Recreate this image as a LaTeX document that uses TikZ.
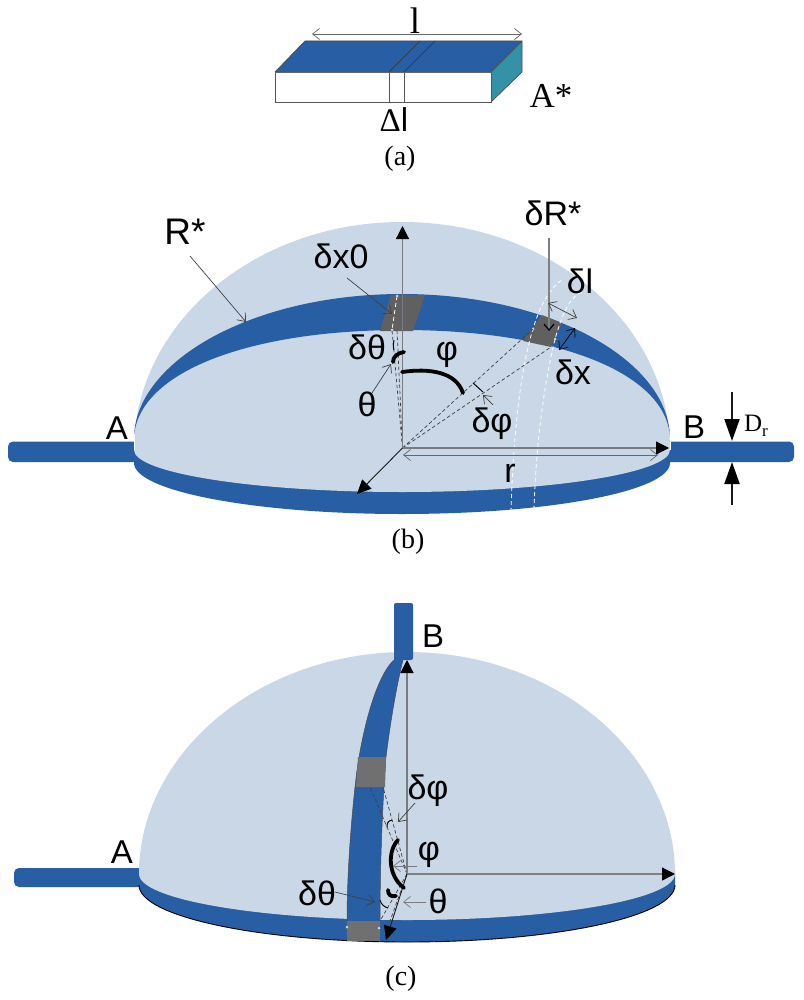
\documentclass[tikz,border=0pt]{standalone}
\usepackage{fontspec}
\setmainfont{Liberation Sans}
\newfontfamily\tms{Liberation Serif}
\usetikzlibrary{arrows.meta}
\definecolor{bandblue}{RGB}{40,94,164}
\definecolor{domeblue}{RGB}{202,215,231}
\definecolor{patchgray}{RGB}{96,96,96}
\definecolor{patchgrayc}{RGB}{112,112,112}
\definecolor{tealside}{RGB}{52,146,168}
\definecolor{linegray}{RGB}{120,124,130}
\tikzset{
 x=1pt,y=-1pt,
 lab/.style={inner sep=0,font=\fontsize{33}{36}\selectfont},
 labr/.style={inner sep=0,font=\fontsize{37}{40}\selectfont},
 labs/.style={inner sep=0,font=\fontsize{34}{36}\selectfont},
 captext/.style={inner sep=0,font=\tms\fontsize{28}{30}\selectfont},
 tmslab/.style={inner sep=0,font=\tms\fontsize{35}{40}\selectfont},
 thinarrow/.style={draw=black!75,line width=0.7pt,-{Straight Barb[length=7pt,width=11pt,line width=0.7pt]}},
 thinboth/.style={draw=black!75,line width=0.7pt,{Straight Barb[length=7pt,width=11pt,line width=0.7pt]}-{Straight Barb[length=7pt,width=11pt,line width=0.7pt]}},
 bigarrow/.style={draw=linegray,line width=1.2pt,-{Triangle[length=13pt,width=13pt,fill=black,color=black]}},
 blkarrow/.style={draw=black!90,line width=0.9pt,-{Triangle[length=14pt,width=13pt,fill=black,color=black]}},
 dimarrow/.style={draw=black!90,line width=2pt,-{Triangle[length=22pt,width=15pt,fill=black,color=black]}},
 dashln/.style={draw=black!75,line width=0.7pt,dash pattern=on 3.5pt off 2.5pt},
 wdash/.style={draw=white,line width=0.8pt,dash pattern=on 4pt off 3pt},
 thickarc/.style={draw=black,line width=3.8pt,line cap=round},
 tinyarc/.style={draw=black,line width=1pt},
 wdot/.style={circle,fill=white,draw=black!70,line width=0.3pt,inner sep=0,minimum size=3pt},
}
\begin{document}
\begin{tikzpicture}
\useasboundingbox (0,0) rectangle (803,1000);
\fill[white] (0,0) rectangle (803,1000);
%% ---------- (a)
\fill[bandblue] (275,72) -- (305,41) -- (522,41) -- (491,72) -- cycle;
\fill[tealside] (491,72) -- (522,41) -- (522,72) -- (491,102) -- cycle;
\draw[linegray!70!black,line width=0.8pt] (275,72) rectangle (491,102);
\draw[linegray!70!black,line width=0.8pt] (389,72) -- (389,102) (404,72) -- (404,102);
\draw[black!70,line width=0.7pt] (275,72) -- (305,41) -- (522,41) -- (522,72) -- (491,102) (491,72) -- (522,41);
\draw[black!80,line width=0.7pt] (389,72) -- (420,41) (404,72) -- (435,41);
\draw[black!60,line width=0.7pt] (275,72) -- (491,72);
\node[inner sep=0,font=\tms\fontsize{37}{40}\selectfont] (la) at (415,21) {l};
\node[inner sep=0] (dl) at (394,120) {{\tms\fontsize{33}{36}\selectfont Δ}{\fontsize{33}{36}\selectfont l}};
\node[tmslab] (as) at (551,96) {A*};
\node[captext] (capa) at (400,159) {(a)};
\coordinate (la1) at (312,34);
\coordinate (la2) at (522,34);
\draw[thinboth,draw=black!60] (la1) -- (la2);
%% ---------- (b)
\fill[bandblue,rounded corners=5pt] (8,441.5) -- (150,441.5) -- (150,462) -- (8,462) -- cycle;
\fill[bandblue,rounded corners=5pt] (650,441.5) -- (794,441.5) -- (794,462) -- (650,462) -- cycle;
% rim
\fill[bandblue] (134,450) -- (134,463) .. controls (134,491) and (254,514) .. (402,514) .. controls (550,514) and (670,491) .. (670,463) -- (670,450) -- cycle;
% dome
\fill[domeblue] (134,450) .. controls (134,324) and (254,222) .. (402,222) .. controls (550,222) and (670,324) .. (670,450) .. controls (670,473) and (550,492) .. (402,492) .. controls (254,492) and (134,473) .. (134,450) -- cycle;
% band
\fill[bandblue] (134,437) .. controls (136,360) and (254,294) .. (402,294) .. controls (550,294) and (668,360) .. (670,437) .. controls (666,372) and (555,330) .. (402,330) .. controls (249,330) and (138,372) .. (134,437) -- cycle;
\draw[white,line width=0.7pt] (134,450) -- (134,434);
\draw[white,line width=0.7pt] (670,450) -- (670,434);
% patches
\fill[patchgray] (391,295) -- (425,295) -- (413,331) -- (380,331) -- cycle;
\fill[patchgray] (542,315) -- (562,323) -- (551,347) -- (523,341) -- cycle;
% white dashed
\draw[wdash] (397,296) -- (392,330);
\draw[wdash] (511,512) .. controls (513,440) and (520,370) .. (533,329) .. controls (540,305) and (550,288) .. (563,279);
\draw[wdash] (534,510) .. controls (536,440) and (545,380) .. (555,339) .. controls (563,312) and (570,295) .. (585,291);
\node[wdot] (p1) at (397,296) {};
\node[wdot] (p2) at (392,330) {};
\node[wdot] (p3) at (533,329) {};
\node[wdot] (p4) at (555,339) {};
% centre
\coordinate (O) at (402.5,448);
\draw[dashln] (O) -- (392,330);
\draw[dashln] (O) -- (397,330);
\draw[dashln] (O) -- (533,329);
\draw[dashln] (O) -- (551,347);
% axes
\draw[bigarrow] (O) -- (402.5,226);
\draw[bigarrow] (O) -- (669,448);
\draw[thinboth,draw=black!60] (403,455) -- (658,455);
\draw[blkarrow] (O) -- (357,494);
\draw[draw=black!50,line width=1.2pt,-{Straight Barb[length=6pt,width=10pt,color=black]}] (549,238) -- (549,331);
% thin labels
\draw[thinboth] (548,303) -- (577,318);
\draw[thinboth,draw=black] (559,350) -- (575,328);
\draw[thinarrow] (190,256) -- (246,322);
\draw[thinarrow] (347,278) -- (392,314);
\draw[thinarrow] (493,405) -- (483,395);
\draw[thinarrow] (372,393) -- (391,364);
% arcs
\draw[thickarc] (393,362) .. controls (393,357) and (397,353) .. (404,352);
\draw[thickarc] (402,372) .. controls (430,368) and (456,372) .. (463,393);
\draw[tinyarc] (394,340) .. controls (393,345) and (393,348) .. (394,350);
\draw[tinyarc] (473,383) -- (483,392);
% labels
\node[labr] (Rs) at (185,232) {R*};
\node[labs] (dx0) at (341,256) {δx0};
\node[labs] (dth) at (367,347) {δθ};
\node[labs] (th) at (367,404) {θ};
\node[labs] (phi) at (447,355) {φ};
\node[labs] (dphi) at (492,424) {δφ};
\node[labs] (dRs) at (553,213) {δR*};
\node[labs] (dlb) at (580,281) {δl};
\node[labs] (dxb) at (573,372) {δx};
\node[lab] (Ab) at (117,428) {A};
\node[lab] (Bb) at (694,427) {B};
\node[labs] (rb) at (510,473) {r};
\node[inner sep=0] (Dr) at (756,426) {{\tms\fontsize{25}{28}\selectfont D}{\tms\fontsize{17}{20}\selectfont\raisebox{-5pt}{r}}};
\draw[dimarrow] (732,392) -- (732,441);
\draw[dimarrow] (732,505) -- (732,462);
\node[captext] (capb) at (408,542) {(b)};
%% ---------- (c)
\fill[bandblue,rounded corners=5pt] (14,868) -- (146,868) -- (146,887) -- (14,887) -- cycle;
\fill[bandblue] (139,874) -- (139,885) .. controls (139,916.5) and (259,942) .. (407,942) .. controls (555,942) and (675,916.5) .. (675,885) -- (675,870) -- cycle;
\draw[black,line width=0.9pt] (139,885) .. controls (139,916.5) and (259,942) .. (407,942) .. controls (555,942) and (675,916.5) .. (675,885);
\fill[domeblue] (139,874) .. controls (139,754) and (258,652) .. (407,652) .. controls (556,652) and (675,754) .. (675,874) .. controls (675,899.4) and (555,920) .. (407,920) .. controls (259,920) and (139,899.4) .. (139,874) -- cycle;
\fill[bandblue,rounded corners=2pt] (394,603) -- (413,603) -- (413,660) -- (394,660) -- cycle;
\fill[bandblue] (396,658) .. controls (375,675) and (362,735) .. (357,770) .. controls (352,810) and (347,870) .. (347,921) -- (380,921) .. controls (380,870) and (382,810) .. (386,757) .. controls (392,710) and (398,680) .. (403,660) -- cycle;
\draw[black!70,line width=0.5pt] (396,658) .. controls (375,675) and (362,735) .. (357,770) .. controls (352,810) and (347,870) .. (347,921) (380,921) .. controls (380,870) and (382,810) .. (386,757) .. controls (392,710) and (398,680) .. (403,660);
\fill[patchgrayc] (358,757) -- (386,757) -- (385,787) -- (356,787) -- cycle;
\fill[patchgrayc] (347,921) -- (380,921) -- (380,941) -- (347,941) -- cycle;
\node[wdot] (p5) at (347,927) {};
\node[wdot] (p6) at (379,928) {};
\coordinate (Oc) at (407,874);
\draw[dashln] (Oc) -- (370,787);
\draw[dashln] (Oc) -- (383,787);
\draw[dashln] (Oc) -- (380,921);
\draw[dashln] (Oc) -- (390,921);
\draw[bigarrow] (Oc) -- (407,660);
\draw[bigarrow,draw=black!50] (Oc) -- (675,874);
\draw[blkarrow] (Oc) -- (386,940);
\draw[thickarc] (398,840) .. controls (388,850) and (387,875) .. (404,888);
\draw[thickarc] (388,890) .. controls (388,895) and (391,897) .. (396,896);
\draw[tinyarc] (392,820) .. controls (388,821) and (387,823) .. (387,827);
\draw[tinyarc] (380,900) .. controls (381,904) and (384,907) .. (388,908);
\draw[thinarrow] (415,803) -- (398,822);
\draw[thinarrow,draw=linegray] (417,866) -- (393,866);
\draw[thinarrow,draw=linegray] (426,902) -- (403,902);
\draw[thinarrow] (335,892) -- (375,902);
\node[lab] (Ac) at (122,852) {A};
\node[lab] (Bc) at (433,636) {B};
\node[labs] (dphc) at (428,791) {δφ};
\node[labs] (phc) at (429,855) {φ};
\node[labs] (thc) at (438,901) {θ};
\node[labs] (dthc) at (317,893) {δθ};
\node[captext] (capc) at (401,979) {(c)};
\end{tikzpicture}
\end{document}
